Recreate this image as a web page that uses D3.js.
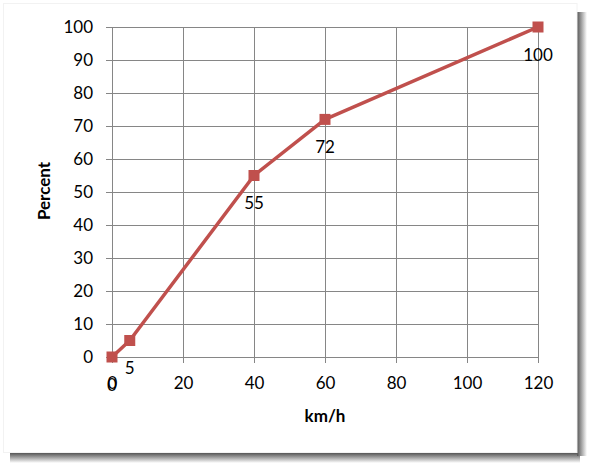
<!DOCTYPE html>
<html><head><meta charset="utf-8">
<script src="https://cdn.jsdelivr.net/npm/d3@7/dist/d3.min.js"></script>
<style>body{margin:0;background:#fff}svg{display:block}</style>
</head><body>
<svg id="c" width="589" height="466"></svg>
<script>
const speeds = [0, 5, 40, 60, 120];
const percents = [0, 5, 55, 72, 100];
const xTicks = [0, 20, 40, 60, 80, 100, 120];
const yTicks = [0, 10, 20, 30, 40, 50, 60, 70, 80, 90, 100];
const xTitle = "km/h";
const yTitle = "Percent";

const svg = d3.select("#c");
const font = "Lato, 'Open Sans', sans-serif";

// shadow
const defs = svg.append("defs");
const gb = defs.append("linearGradient").attr("id","sb").attr("x1",0).attr("y1",0).attr("x2",0).attr("y2",1);
gb.append("stop").attr("offset","0%").attr("stop-color","#555");
gb.append("stop").attr("offset","100%").attr("stop-color","#fff");
const gr = defs.append("linearGradient").attr("id","sr").attr("x1",0).attr("y1",0).attr("x2",1).attr("y2",0);
gr.append("stop").attr("offset","0%").attr("stop-color","#555");
gr.append("stop").attr("offset","100%").attr("stop-color","#fff");
svg.append("rect").attr("x",10).attr("y",453).attr("width",570).attr("height",10).attr("fill","url(#sb)");
svg.append("rect").attr("x",577).attr("y",12).attr("width",10).attr("height",444).attr("fill","url(#sr)");
svg.append("rect").attr("x",3.5).attr("y",3.5).attr("width",573.5).attr("height",449).attr("fill","#fff").attr("stroke","#f2f2f2");

const x = d3.scaleLinear().domain([0,120]).range([112,538]);
const y = d3.scaleLinear().domain([0,100]).range([357,27]);

const gx = svg.append("g").attr("transform","translate(0,357)")
  .call(d3.axisBottom(x).tickValues(xTicks).tickSize(-(357-27)).tickSizeOuter(0).tickPadding(0));
gx.select(".domain").remove();
gx.selectAll(".tick line").attr("y1",6).attr("stroke","#868686");
gx.selectAll(".tick text").attr("y",26).attr("dy","0.35em").attr("font-size","17px").attr("font-family",font).attr("fill","#000");

const gy = svg.append("g").attr("transform","translate(112,0)")
  .call(d3.axisLeft(y).tickValues(yTicks).tickSize(-(538-112)).tickSizeOuter(0));
gy.select(".domain").remove();
gy.selectAll(".tick line").attr("x1",-6).attr("stroke","#868686");
gy.selectAll(".tick text").attr("x",-19).attr("dy","0.35em").attr("font-size","17px").attr("font-family",font).attr("fill","#000");

const pts = speeds.map((s,i)=>({s, p:percents[i]}));
svg.append("path").datum(pts)
  .attr("d", d3.line().x(d=>x(d.s)).y(d=>y(d.p)))
  .attr("fill","none").attr("stroke","#C0504D").attr("stroke-width",3.5).attr("stroke-linejoin","round");
svg.selectAll("rect.m").data(pts).join("rect").attr("class","m")
  .attr("x",d=>x(d.s)-5.5).attr("y",d=>y(d.p)-5.5).attr("width",11).attr("height",11)
  .attr("fill","#C0504D");
svg.selectAll("text.lbl").data(pts).join("text").attr("class","lbl")
  .attr("x",d=>x(d.s)).attr("y",d=>y(d.p)+28).attr("dy","0.35em")
  .attr("text-anchor","middle").attr("font-size","17px").attr("font-family",font).attr("fill","#000")
  .text(d=>d.p);

svg.append("text").attr("x",325).attr("y",416).attr("dy","0.35em").attr("text-anchor","middle")
  .attr("font-size","17px").attr("font-weight","bold").attr("font-family",font).text(xTitle);
svg.append("text").attr("transform","translate(44,191) rotate(-90)").attr("dy","0.35em").attr("text-anchor","middle")
  .attr("font-size","17px").attr("font-weight","bold").attr("font-family",font).text(yTitle);
</script>
</body></html>
